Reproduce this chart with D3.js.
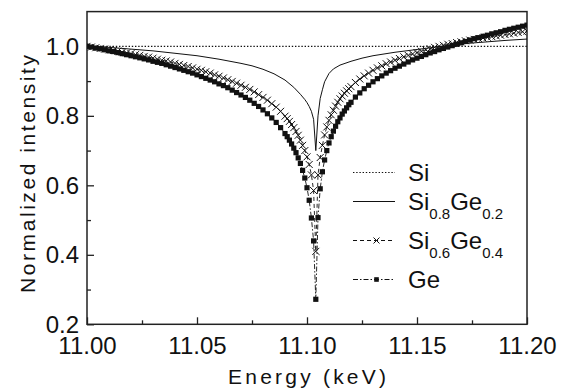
<!DOCTYPE html>
<html lang="en">
<head>
  <meta charset="UTF-8">
  <script src="https://cdn.jsdelivr.net/npm/d3@7"></script>
  <title>Normalized intensity vs energy</title>
  <style>
    body { margin: 0; background: #fff; }
    text { font-family: 'Liberation Sans', Arial, sans-serif; fill: #111; }
    .tick line { stroke: #222; stroke-width: 1.3; }
  </style>
</head>
<body>
  <script>
    // sampled energies (keV), finer near the edge
    const energy = [
      11.000, 11.002, 11.004, 11.006, 11.008, 11.010, 11.012, 11.014, 11.016, 11.018,
      11.020, 11.022, 11.024, 11.026, 11.028, 11.030, 11.032, 11.034, 11.036, 11.038,
      11.040, 11.042, 11.044, 11.046, 11.048, 11.050, 11.052, 11.054, 11.056, 11.058,
      11.060, 11.062, 11.064, 11.066, 11.068, 11.070, 11.072, 11.074, 11.076, 11.078,
      11.080, 11.082, 11.084, 11.086, 11.088,
      11.090, 11.091, 11.092, 11.093, 11.094, 11.095, 11.096, 11.097, 11.098, 11.099,
      11.100, 11.101, 11.102, 11.103, 11.104, 11.105, 11.106, 11.107, 11.108, 11.109,
      11.110, 11.111, 11.112, 11.113, 11.114, 11.115, 11.116, 11.117, 11.118, 11.119,
      11.120,
      11.122, 11.124, 11.126, 11.128, 11.130, 11.132, 11.134, 11.136, 11.138, 11.140,
      11.142, 11.144, 11.146, 11.148, 11.150, 11.152, 11.154, 11.156, 11.158, 11.160,
      11.162, 11.164, 11.166, 11.168, 11.170, 11.172, 11.174, 11.176, 11.178, 11.180,
      11.182, 11.184, 11.186, 11.188, 11.190, 11.192, 11.194, 11.196, 11.198, 11.200
    ];

    // Si0.6Ge0.4 (x markers)
    const si06ge04 = [
      1.000, 0.998, 0.996, 0.994, 0.992, 0.990, 0.988, 0.986, 0.983, 0.981,
      0.979, 0.976, 0.974, 0.971, 0.969, 0.966, 0.963, 0.960, 0.958, 0.955,
      0.951, 0.948, 0.945, 0.942, 0.938, 0.934, 0.931, 0.927, 0.923, 0.918,
      0.914, 0.909, 0.904, 0.899, 0.894, 0.888, 0.882, 0.876, 0.869, 0.861,
      0.853, 0.845, 0.835, 0.825, 0.813,
      0.799, 0.792, 0.784, 0.775, 0.766, 0.755, 0.744, 0.730, 0.715, 0.700,
      0.682, 0.660, 0.630, 0.585, 0.410, 0.630, 0.680, 0.715, 0.745, 0.768,
      0.787, 0.803, 0.816, 0.828, 0.839, 0.849, 0.857, 0.865, 0.872, 0.878,
      0.884,
      0.896, 0.906, 0.915, 0.923, 0.931, 0.938, 0.944, 0.950, 0.955, 0.960,
      0.965, 0.970, 0.974, 0.978, 0.982, 0.986, 0.990, 0.993, 0.997, 1.000,
      1.003, 1.006, 1.008, 1.011, 1.013, 1.016, 1.018, 1.020, 1.022, 1.024,
      1.026, 1.028, 1.030, 1.032, 1.034, 1.036, 1.038, 1.040, 1.042, 1.044
    ];

    // Ge (square markers)
    const geVals = [
      1.000, 0.998, 0.995, 0.993, 0.990, 0.987, 0.985, 0.982, 0.979, 0.976,
      0.973, 0.970, 0.967, 0.964, 0.961, 0.957, 0.954, 0.951, 0.947, 0.943,
      0.939, 0.935, 0.931, 0.927, 0.923, 0.918, 0.913, 0.908, 0.903, 0.898,
      0.892, 0.887, 0.881, 0.874, 0.867, 0.860, 0.853, 0.845, 0.836, 0.827,
      0.817, 0.806, 0.794, 0.781, 0.766,
      0.749, 0.740, 0.730, 0.719, 0.707, 0.694, 0.679, 0.663, 0.643, 0.621,
      0.593, 0.557, 0.506, 0.440, 0.272, 0.507, 0.590, 0.639, 0.673, 0.700,
      0.722, 0.740, 0.756, 0.770, 0.783, 0.794, 0.805, 0.814, 0.823, 0.832,
      0.839,
      0.854, 0.866, 0.878, 0.888, 0.898, 0.907, 0.915, 0.923, 0.930, 0.937,
      0.943, 0.949, 0.955, 0.961, 0.966, 0.971, 0.976, 0.981, 0.985, 0.990,
      0.994, 0.998, 1.002, 1.006, 1.010, 1.014, 1.018, 1.022, 1.025, 1.029,
      1.032, 1.036, 1.039, 1.042, 1.046, 1.049, 1.052, 1.055, 1.058, 1.061
    ];

    // Si0.8Ge0.2 (solid line)
    const si08Energy = [
      11.000, 11.010, 11.020, 11.030, 11.040, 11.050, 11.060, 11.070, 11.075, 11.080,
      11.085, 11.090, 11.094, 11.097, 11.099, 11.100, 11.101, 11.102, 11.103, 11.104,
      11.105, 11.106, 11.107, 11.108, 11.110, 11.112, 11.115, 11.120, 11.125, 11.130,
      11.135, 11.140, 11.145, 11.150, 11.155, 11.160, 11.165, 11.170, 11.180, 11.190,
      11.200
    ];
    const si08ge02 = [
      1.000, 0.997, 0.992, 0.987, 0.980, 0.973, 0.963, 0.951, 0.944, 0.934,
      0.921, 0.903, 0.882, 0.862, 0.847, 0.838, 0.827, 0.813, 0.790, 0.700,
      0.800, 0.850, 0.875, 0.898, 0.922, 0.935, 0.946, 0.957, 0.966, 0.973,
      0.978, 0.983, 0.987, 0.991, 0.995, 0.999, 1.003, 1.007, 1.012, 1.017,
      1.021
    ];

    // Si (dotted)
    const siEnergy = [11.00, 11.05, 11.10, 11.15, 11.20];
    const siVals = [1.0, 1.0, 1.0, 1.0, 1.0];

    const xTicks = [11.00, 11.05, 11.10, 11.15, 11.20];
    const xMinor = [11.025, 11.075, 11.125, 11.175];
    const yTicks = [0.2, 0.4, 0.6, 0.8, 1.0];
    const yMinor = [0.3, 0.5, 0.7, 0.9];

    const width = 561, height = 390;
    const plotL = 87, plotR = 527, plotT = 11.6, plotB = 324.3;

    const x = d3.scaleLinear().domain([11.0, 11.2]).range([plotL, plotR]);
    const y = d3.scaleLinear().domain([0.2, 1.1]).range([plotB, plotT]);

    const svg = d3.select('body').append('svg').attr('width', width).attr('height', height);

    svg.append('clipPath').attr('id', 'plot')
      .append('rect').attr('x', plotL).attr('y', plotT).attr('width', plotR - plotL).attr('height', plotB - plotT);

    // axes (ticks point inward)
    const gx = svg.append('g').attr('transform', `translate(0,${plotB})`)
      .call(d3.axisBottom(x).tickValues(xTicks).tickFormat(d3.format('.2f'))
        .tickSizeInner(-7).tickSizeOuter(0).tickPadding(13));
    svg.append('g').attr('transform', `translate(0,${plotB})`)
      .call(d3.axisBottom(x).tickValues(xMinor).tickFormat('').tickSizeInner(-4).tickSizeOuter(0));
    const gy = svg.append('g').attr('transform', `translate(${plotL},0)`)
      .call(d3.axisLeft(y).tickValues(yTicks).tickFormat(d3.format('.1f'))
        .tickSizeInner(-7).tickSizeOuter(0).tickPadding(8));
    svg.append('g').attr('transform', `translate(${plotL},0)`)
      .call(d3.axisLeft(y).tickValues(yMinor).tickFormat('').tickSizeInner(-4).tickSizeOuter(0));
    svg.selectAll('.domain').remove();
    svg.selectAll('g').attr('font-family', null).attr('font-size', null);
    gx.selectAll('text').attr('font-size', 24);
    gy.selectAll('text').attr('font-size', 24).attr('dy', '0.33em');

    svg.append('rect').attr('x', plotL).attr('y', plotT).attr('width', plotR - plotL).attr('height', plotB - plotT)
      .attr('fill', 'none').attr('stroke', '#222').attr('stroke-width', 1.5);

    // axis titles
    svg.append('text').attr('x', (plotL + plotR) / 2).attr('y', 384)
      .attr('text-anchor', 'middle').attr('font-size', 21)
      .attr('textLength', 158).attr('lengthAdjust', 'spacing')
      .text('Energy (keV)');
    svg.append('text').attr('transform', 'translate(35,174) rotate(-90)')
      .attr('text-anchor', 'middle').attr('font-size', 21)
      .attr('textLength', 238).attr('lengthAdjust', 'spacing')
      .text('Normalized intensity');

    const plot = svg.append('g').attr('clip-path', 'url(#plot)');
    const line = d3.line().x(d => x(d[0])).y(d => y(d[1]));

    const siData = d3.zip(siEnergy, siVals);
    const s08Data = d3.zip(si08Energy, si08ge02);
    const s06Data = d3.zip(energy, si06ge04);
    const geData = d3.zip(energy, geVals);

    const crossPath = 'M-3.5,-3.5L3.5,3.5M-3.5,3.5L3.5,-3.5';
    const sq = 5.2;

    plot.append('path').datum(siData).attr('d', line)
      .attr('fill', 'none').attr('stroke', '#111').attr('stroke-width', 1.2).attr('stroke-dasharray', '1.4,1.8');
    plot.append('path').datum(s08Data).attr('d', line)
      .attr('fill', 'none').attr('stroke', '#111').attr('stroke-width', 1);

    plot.append('path').datum(s06Data).attr('d', line)
      .attr('fill', 'none').attr('stroke', '#111').attr('stroke-width', 0.9).attr('stroke-dasharray', '4,3');
    plot.selectAll('.xm').data(s06Data).enter().append('path').attr('class', 'xm')
      .attr('transform', d => `translate(${x(d[0])},${y(d[1])})`)
      .attr('d', crossPath).attr('stroke', '#111').attr('stroke-width', 1).attr('fill', 'none');

    plot.append('path').datum(geData).attr('d', line)
      .attr('fill', 'none').attr('stroke', '#111').attr('stroke-width', 0.9).attr('stroke-dasharray', '5,2,1.5,2');
    plot.selectAll('.sq').data(geData).enter().append('rect').attr('class', 'sq')
      .attr('x', d => x(d[0]) - sq / 2).attr('y', d => y(d[1]) - sq / 2)
      .attr('width', sq).attr('height', sq).attr('fill', '#111');

    // legend
    const legend = [
      { parts: [['Si', 0]], dash: '1.4,1.8', marker: null, ly: 172.5 },
      { parts: [['Si', 0], ['0.8', 1], ['Ge', 0], ['0.2', 1]], dash: null, marker: null, ly: 201.5 },
      { parts: [['Si', 0], ['0.6', 1], ['Ge', 0], ['0.4', 1]], dash: '4,3', marker: 'x', ly: 240.5 },
      { parts: [['Ge', 0]], dash: '5,2,1.5,2', marker: 'sq', ly: 279.5 }
    ];
    const lg = svg.append('g');
    legend.forEach(item => {
      lg.append('line').attr('x1', 353).attr('x2', 395).attr('y1', item.ly).attr('y2', item.ly)
        .attr('stroke', '#111').attr('stroke-width', item.dash === '1.4,1.8' ? 1.2 : 1)
        .attr('stroke-dasharray', item.dash);
      if (item.marker === 'x') {
        lg.append('path').attr('transform', `translate(376.5,${item.ly})`).attr('d', 'M-3,-3L3,3M-3,3L3,-3')
          .attr('stroke', '#111').attr('stroke-width', 1).attr('fill', 'none');
      } else if (item.marker === 'sq') {
        lg.append('rect').attr('x', 376.5 - 2.3).attr('y', item.ly - 2.3)
          .attr('width', 4.6).attr('height', 4.6).attr('fill', '#111');
      }
      const t = lg.append('text').attr('x', 408).attr('y', item.ly + 8).attr('font-size', 24);
      let sub = 0;
      item.parts.forEach(([s, isSub]) => {
        const dy = isSub === sub ? 0 : (isSub ? 9 : -9);
        sub = isSub;
        t.append('tspan').attr('dy', dy).attr('font-size', isSub ? 15 : 24).text(s);
      });
    });
  </script>
</body>
</html>
